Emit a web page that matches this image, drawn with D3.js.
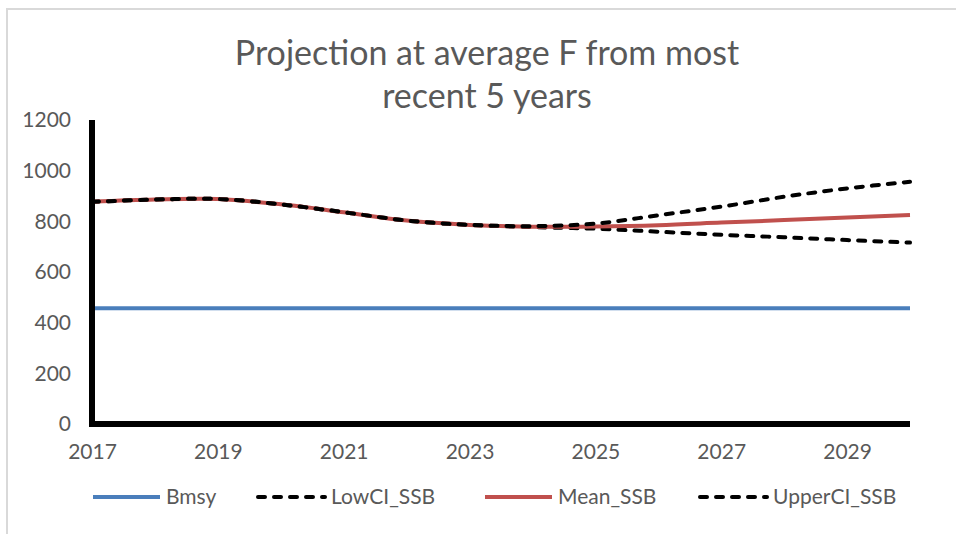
<!DOCTYPE html>
<html>
<head>
<meta charset="utf-8">
<script src="https://cdn.jsdelivr.net/npm/d3@7"></script>
<style>
  body { margin: 0; background: #fff; }
  text { font-family: Lato, "Open Sans", sans-serif; fill: #595959; }
</style>
</head>
<body>
<svg id="chart" width="956" height="534"></svg>
<script>
// values
const years = [2017, 2018, 2019, 2020, 2021, 2022, 2023, 2024, 2025, 2026, 2027, 2028, 2029, 2030];
const bmsy = [457, 457, 457, 457, 457, 457, 457, 457, 457, 457, 457, 457, 457, 457];
const lowCI = [877, 886, 888, 867, 836, 803, 786, 777, 771, 759, 747, 737, 726, 716];
const meanSSB = [877, 886, 888, 867, 836, 803, 786, 779, 780, 785, 795, 805, 815, 825];
const upperCI = [877, 886, 888, 867, 836, 803, 786, 781, 791, 824, 858, 897, 930, 956];
const yTicks = [0, 200, 400, 600, 800, 1000, 1200];
const xTicks = [2017, 2019, 2021, 2023, 2025, 2027, 2029];
const titleLines = ["Projection at average F from most", "recent 5 years"];

const series = [
  {name: "Bmsy", values: bmsy, color: "#4a7ebb", dash: null},
  {name: "LowCI_SSB", values: lowCI, color: "#000", dash: "7,9"},
  {name: "Mean_SSB", values: meanSSB, color: "#c0504d", dash: null},
  {name: "UpperCI_SSB", values: upperCI, color: "#000", dash: "7,9"}
];

const svg = d3.select("#chart");

// outer frame
svg.append("rect")
  .attr("x", 7).attr("y", 9)
  .attr("width", 1000).attr("height", 600)
  .attr("fill", "none")
  .attr("stroke", "#d9d9d9")
  .attr("stroke-width", 2);

const x = d3.scaleLinear().domain([2017, 2030]).range([92, 910]);
const y = d3.scaleLinear().domain([0, 1200]).range([424, 120]);

// title
svg.selectAll(".title")
  .data(titleLines)
  .join("text")
  .attr("class", "title")
  .attr("x", 487)
  .attr("y", (d, i) => 65 + i * 43)
  .attr("text-anchor", "middle")
  .attr("font-size", 34)
  .text(d => d);

// y tick labels
const yAxis = svg.append("g")
  .attr("transform", "translate(71,0)")
  .call(d3.axisLeft(y).tickValues(yTicks).tickFormat(d3.format("d")).tickSize(0).tickPadding(0));
yAxis.select(".domain").remove();
yAxis.selectAll("text")
  .attr("font-size", 21)
  .attr("fill", "#595959")
  .style("font-family", "Lato, 'Open Sans', sans-serif");

// x tick labels
const xAxis = svg.append("g")
  .attr("transform", "translate(0,444)")
  .call(d3.axisBottom(x).tickValues(xTicks).tickFormat(d3.format("d")).tickSize(0).tickPadding(0));
xAxis.select(".domain").remove();
xAxis.selectAll("text")
  .attr("font-size", 21)
  .attr("fill", "#595959")
  .style("font-family", "Lato, 'Open Sans', sans-serif");

// lines
const line = d3.line()
  .x((d, i) => x(years[i]))
  .y(d => y(d))
  .curve(d3.curveCatmullRom.alpha(0.5));

svg.append("g")
  .selectAll("path")
  .data(series)
  .join("path")
  .attr("d", d => line(d.values))
  .attr("fill", "none")
  .attr("stroke", d => d.color)
  .attr("stroke-width", 4)
  .attr("stroke-linecap", d => d.dash ? "round" : "butt")
  .attr("stroke-dasharray", d => d.dash);

// thick axis lines
svg.append("line")
  .attr("x1", x(2017)).attr("x2", x(2017))
  .attr("y1", y(1200)).attr("y2", y(0) + 3)
  .attr("stroke", "#000").attr("stroke-width", 6);
svg.append("line")
  .attr("x1", x(2017) - 3).attr("x2", x(2030))
  .attr("y1", y(0)).attr("y2", y(0))
  .attr("stroke", "#000").attr("stroke-width", 6);

// legend
const legendX = [93, 258, 485, 700];
const leg = svg.append("g")
  .selectAll("g")
  .data(series)
  .join("g")
  .attr("transform", (d, i) => `translate(${legendX[i]},497)`);
leg.append("line")
  .attr("x1", 0).attr("x2", 67)
  .attr("stroke", d => d.color)
  .attr("stroke-width", 4)
  .attr("stroke-linecap", d => d.dash ? "round" : "butt")
  .attr("stroke-dasharray", d => d.dash);
leg.append("text")
  .attr("x", 73)
  .attr("dy", "0.35em")
  .attr("font-size", 21)
  .text(d => d.name);
</script>
</body>
</html>
